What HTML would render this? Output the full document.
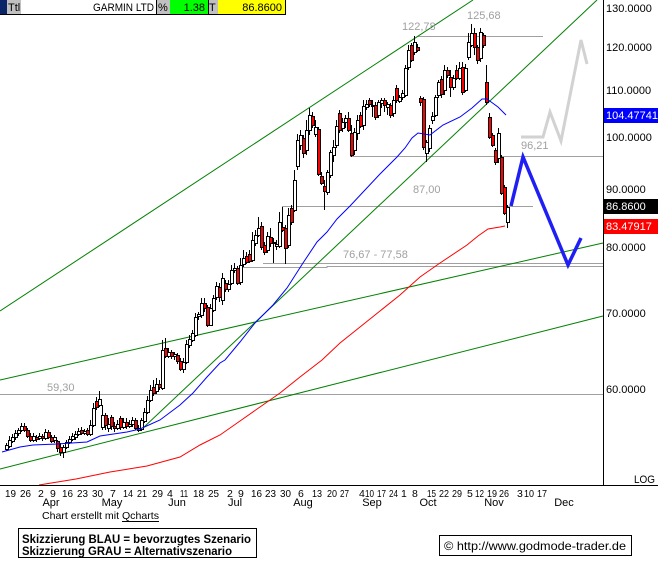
<!DOCTYPE html>
<html><head><meta charset="utf-8"><style>
html,body{margin:0;padding:0;background:#fff;}
svg{display:block;}
text{font-family:"Liberation Sans",Arial,sans-serif;}
</style></head><body>
<svg width="658" height="563" viewBox="0 0 658 563" xmlns="http://www.w3.org/2000/svg">
<rect width="658" height="563" fill="#fff"/>
<!-- header -->
<rect x="0" y="0" width="7" height="14" fill="#0a2468"/>
<rect x="7" y="0" width="14" height="14" fill="#c0c0c0"/>
<rect x="21" y="0" width="136" height="14" fill="#fff"/>
<rect x="157" y="0" width="13" height="14" fill="#c0c0c0"/>
<rect x="170" y="0" width="38" height="14" fill="#00ff00"/>
<rect x="208" y="0" width="10" height="14" fill="#c0c0c0"/>
<rect x="218" y="0" width="67" height="14" fill="#ffff00"/>
<path d="M0 14.5H285.5V0M156.5 0V14M208.5 0V14" stroke="#000" fill="none" shape-rendering="crispEdges"/>
<g font-size="11" fill="#000">
<text x="8" y="11">Ttl</text>
<text x="154" y="11" text-anchor="end" textLength="61" lengthAdjust="spacingAndGlyphs">GARMIN LTD</text>
<text x="158" y="11">%</text>
<text x="205" y="11" text-anchor="end">1.38</text>
<text x="209" y="11">T</text>
<text x="282" y="11" text-anchor="end">86.8600</text>
</g>

<!-- gray horizontal lines -->
<g stroke="#a0a0a0" stroke-width="1" shape-rendering="crispEdges" fill="none">
<path d="M417 36.5H543"/>
<path d="M350 156.5H603"/>
<path d="M282 206.5H533"/>
<path d="M263 263.5H603"/>
<path d="M240 267.5H327V266.5H603"/>
<path d="M0 394.5H603"/>
</g>

<!-- green trend lines -->
<g stroke="#008000" stroke-width="1" fill="none">
<path d="M0 311L473 0"/>
<path d="M142 429L597 0"/>
<path d="M0 380L603 243"/>
<path d="M0 469L603 316"/>
</g>

<!-- candle wicks -->
<path stroke="#000" stroke-width="1" fill="none" shape-rendering="crispEdges" d="M6.5 443V451M9.5 436V448M12.5 434V443M15.5 430V440M18.5 428V436M21.5 423V432M24.5 423V432M27.5 428V438M30.5 433V442M33.5 433V442M36.5 435V442M39.5 433V440M42.5 434V441M45.5 429V440M48.5 430V439M51.5 435V443M54.5 435V443M57.5 440V452M60.5 443V456M63.5 445V458M66.5 440V449M69.5 436V444M72.5 433V441M75.5 431V440M78.5 428V436M81.5 427V435M84.5 429V435M87.5 428V436M90.5 420V436M93.5 403V427M96.5 397V410M99.5 391V407M102.5 405V430M105.5 413V430M108.5 418V432M111.5 415V430M114.5 422V432M117.5 420V430M120.5 416V430M123.5 418V429M126.5 418V429M129.5 420V428M132.5 417V427M135.5 418V430M138.5 425V432M141.5 418V431M144.5 408V423M147.5 396V414M150.5 385V402M153.5 380V396M156.5 378V394M159.5 380V390M162.5 340V390M165.5 338V358M168.5 348V358M171.5 350V359M174.5 352V360M177.5 353V364M180.5 358V371M183.5 358V373M186.5 340V364M189.5 335V348M192.5 330V342M195.5 313V337M198.5 312V320M201.5 298V318M204.5 298V312M207.5 305V327M210.5 304V326M213.5 295V312M216.5 282V300M219.5 283V302M222.5 273V305M225.5 280V292M228.5 280V292M231.5 265V285M234.5 263V273M237.5 266V285M240.5 258V285M243.5 250V267M246.5 252V264M249.5 250V263M252.5 232V262M255.5 230V246M258.5 217V237M261.5 222V250M264.5 242V255M267.5 232V253M270.5 228V247M273.5 238V263M276.5 240V250M279.5 212V248M282.5 207V232M285.5 225V264M288.5 208V248M291.5 205V225M294.5 170V212M297.5 134V170M300.5 130V150M303.5 135V158M306.5 120V155M309.5 108V135M312.5 112V128M315.5 120V137M318.5 127V176M321.5 172V185M324.5 180V210M327.5 170V195M330.5 150V178M333.5 140V162M336.5 120V148M339.5 110V133M342.5 118V132M345.5 115V128M348.5 112V132M351.5 125V157M354.5 128V155M357.5 115V140M360.5 112V128M363.5 100V130M366.5 100V110M369.5 98V107M372.5 100V117M375.5 102V120M378.5 100V118M381.5 98V108M384.5 98V112M387.5 102V115M390.5 103V118M393.5 96V117M396.5 85V103M399.5 95V103M402.5 90V100M405.5 65V97M408.5 45V70M411.5 43V62M414.5 36V55M417.5 44V52M420.5 96V106M423.5 97V150M426.5 140V162M429.5 125V152M432.5 112V124M435.5 95V117M438.5 80V98M441.5 76V98M444.5 65V95M447.5 67V78M450.5 70V97M453.5 75V90M456.5 65V80M459.5 62V80M462.5 62V95M465.5 64V92M468.5 33V60M471.5 24V47M474.5 28V55M477.5 45V64M480.5 28V62M483.5 33V48M486.5 65V105M489.5 113V139M492.5 133V147M495.5 148V165M498.5 128V163M501.5 155V195M504.5 185V215M507.5 205V228"/>

<g transform="translate(0.5,0.5)" stroke="#000" stroke-width="1" shape-rendering="crispEdges">
<!-- white bodies -->
<path fill="#fff" d="M5 445h3v4h-3zM8 440h3v6h-3zM11 437h3v4h-3zM14 433h3v4h-3zM17 430h3v3h-3zM20 426h3v4h-3zM32 436h3v4h-3zM38 436h3v2h-3zM44 432h3v6h-3zM53 437h3v3h-3zM62 447h3v5h-3zM65 442h3v5h-3zM68 439h3v3h-3zM71 436h3v3h-3zM74 434h3v3h-3zM77 431h3v3h-3zM83 431h3v2h-3zM89 425h3v9h-3zM92 408h3v17h-3zM98 399h3v6h-3zM101 415h3v12h-3zM107 424h3v4h-3zM116 424h3v4h-3zM122 422h3v5h-3zM128 424h3v2h-3zM131 420h3v4h-3zM137 428h3v2h-3zM140 420h3v9h-3zM143 412h3v9h-3zM146 400h3v12h-3zM149 390h3v10h-3zM155 384h3v7h-3zM161 350h3v38h-3zM167 352h3v4h-3zM173 354h3v2h-3zM182 362h3v7h-3zM185 344h3v18h-3zM188 339h3v6h-3zM191 333h3v7h-3zM194 317h3v18h-3zM197 314h3v2h-3zM200 303h3v12h-3zM209 308h3v17h-3zM212 298h3v12h-3zM215 286h3v11h-3zM221 278h3v22h-3zM227 284h3v5h-3zM230 270h3v13h-3zM233 268h3v2h-3zM239 265h3v17h-3zM242 258h3v6h-3zM251 240h3v20h-3zM254 235h3v8h-3zM257 228h3v7h-3zM266 236h3v14h-3zM272 242h3v1h-3zM275 244h3v2h-3zM278 222h3v24h-3zM287 215h3v30h-3zM293 180h3v30h-3zM296 140h3v26h-3zM299 135h3v10h-3zM305 130h3v20h-3zM308 115h3v15h-3zM314 127h3v7h-3zM326 172h3v20h-3zM329 152h3v23h-3zM332 147h3v8h-3zM335 126h3v19h-3zM341 122h3v6h-3zM344 118h3v4h-3zM353 132h3v18h-3zM356 120h3v13h-3zM362 106h3v19h-3zM365 104h3v3h-3zM371 105h3v1h-3zM377 102h3v13h-3zM380 100h3v3h-3zM386 104h3v3h-3zM392 100h3v13h-3zM398 97h3v4h-3zM401 93h3v4h-3zM404 68h3v27h-3zM407 50h3v17h-3zM413 42h3v10h-3zM425 142h3v11h-3zM428 128h3v20h-3zM431 116h3v4h-3zM434 97h3v18h-3zM437 82h3v13h-3zM443 70h3v20h-3zM452 78h3v9h-3zM458 68h3v10h-3zM464 68h3v22h-3zM467 42h3v15h-3zM470 33h3v12h-3zM479 32h3v26h-3zM497 133h3v25h-3zM506 207h3v15h-3z"/>
<!-- red bodies -->
<path fill="#ff0000" d="M23 426h3v4h-3zM26 430h3v6h-3zM29 436h3v4h-3zM35 437h3v2h-3zM41 436h3v2h-3zM47 432h3v5h-3zM50 437h3v4h-3zM56 441h3v7h-3zM59 447h3v5h-3zM80 430h3v3h-3zM86 430h3v4h-3zM95 401h3v6h-3zM104 415h3v10h-3zM110 417h3v9h-3zM113 426h3v2h-3zM119 418h3v9h-3zM125 422h3v4h-3zM134 420h3v8h-3zM152 387h3v6h-3zM158 384h3v3h-3zM164 348h3v8h-3zM170 352h3v4h-3zM176 355h3v6h-3zM179 361h3v8h-3zM203 303h3v5h-3zM206 307h3v18h-3zM218 287h3v10h-3zM224 283h3v6h-3zM236 268h3v15h-3zM245 256h3v6h-3zM248 254h3v7h-3zM260 226h3v21h-3zM263 245h3v7h-3zM269 237h3v6h-3zM281 227h3v3h-3zM284 228h3v20h-3zM290 208h3v14h-3zM302 138h3v15h-3zM311 116h3v9h-3zM317 129h3v45h-3zM320 176h3v7h-3zM323 186h3v5h-3zM338 113h3v17h-3zM347 118h3v12h-3zM350 133h3v22h-3zM359 115h3v11h-3zM368 100h3v4h-3zM374 105h3v12h-3zM383 100h3v5h-3zM389 105h3v10h-3zM395 88h3v12h-3zM410 45h3v15h-3zM416 47h3v3h-3zM419 98h3v4h-3zM422 99h3v48h-3zM440 79h3v15h-3zM446 70h3v5h-3zM449 77h3v10h-3zM455 70h3v8h-3zM461 67h3v25h-3zM473 33h3v14h-3zM476 47h3v13h-3zM482 35h3v10h-3zM485 82h3v20h-3zM488 117h3v20h-3zM491 135h3v10h-3zM494 150h3v12h-3zM500 157h3v36h-3zM503 187h3v26h-3z"/>
</g>

<!-- moving averages -->
<polyline fill="none" stroke="#0000ff" stroke-width="1" points="2,452 20,447 33,445 57,444 87,442 100,436 127,432 140,429 160,420 180,405 193,393 207,377 220,363 225,360 240,342 255,323 273,305 287,288 303,263 317,242 327,232 337,219 350,206 365,190 380,174 397,157 405,148 412,138 418,133 430,135 443,125 460,117 472,108 482,99 487,99 498,107 506,115"/>
<polyline fill="none" stroke="#ff0000" stroke-width="1" points="39,485 76,479 110,472 147,466 180,457 200,445 220,435 240,421 260,407 280,393 300,377 322,360 340,343 360,327 380,311 400,295 420,277 440,263 467,245 478,236 488,229 500,227 505,226"/>

<!-- scenarios -->
<polyline fill="none" stroke="#d2d2d2" stroke-width="3" stroke-linejoin="miter" points="521,137 543,137 550,112 561,141 581,40 587,64"/>
<polyline fill="none" stroke="#1f1ff5" stroke-width="3.5" stroke-linejoin="miter" points="511,206 523,157 568,265 581,238"/>

<!-- gray labels -->
<g font-size="11" fill="#a0a0a0">
<text x="402" y="30">122,78</text>
<text x="467" y="19">125,68</text>
<text x="521" y="149">96,21</text>
<text x="413" y="193">87,00</text>
<text x="343" y="258">76,67 - 77,58</text>
<text x="47" y="391">59,30</text>
</g>

<!-- axes -->
<path d="M603.5 0V485M0 485.5H658" stroke="#000" stroke-width="1" shape-rendering="crispEdges"/>

<!-- right axis labels -->
<g font-size="11" fill="#000">
<text x="606" y="12">130.0000</text>
<text x="606" y="51">120.0000</text>
<text x="606" y="94">110.0000</text>
<text x="606" y="141">100.0000</text>
<text x="606" y="193">90.0000</text>
<text x="606" y="251">80.0000</text>
<text x="606" y="317">70.0000</text>
<text x="606" y="393">60.0000</text>
</g>
<rect x="604" y="108" width="54" height="15" fill="#0000ff"/>
<rect x="604" y="199" width="54" height="15" fill="#000"/>
<rect x="604" y="219" width="54" height="15" fill="#ff0000"/>
<g font-size="11" fill="#fff">
<text x="606" y="119">104.47741</text>
<text x="606" y="210">86.8600</text>
<text x="606" y="230">83.47917</text>
</g>
<text x="634" y="483" font-size="11" textLength="21" lengthAdjust="spacingAndGlyphs">LOG</text>

<!-- date labels -->
<g font-size="10.5" fill="#000">
<text x="5" y="497" textLength="11" lengthAdjust="spacingAndGlyphs">19</text>
<text x="20" y="497" textLength="11" lengthAdjust="spacingAndGlyphs">26</text>
<text x="38" y="497">2</text>
<text x="50" y="497">9</text>
<text x="62" y="497" textLength="11" lengthAdjust="spacingAndGlyphs">16</text>
<text x="77" y="497" textLength="11" lengthAdjust="spacingAndGlyphs">23</text>
<text x="92" y="497" textLength="11" lengthAdjust="spacingAndGlyphs">30</text>
<text x="110" y="497">7</text>
<text x="123" y="497" textLength="10" lengthAdjust="spacingAndGlyphs">14</text>
<text x="137" y="497" textLength="10" lengthAdjust="spacingAndGlyphs">21</text>
<text x="152" y="497" textLength="11" lengthAdjust="spacingAndGlyphs">29</text>
<text x="167" y="497">4</text>
<text x="180" y="497" textLength="8" lengthAdjust="spacingAndGlyphs">11</text>
<text x="193" y="497" textLength="11" lengthAdjust="spacingAndGlyphs">18</text>
<text x="208" y="497" textLength="11" lengthAdjust="spacingAndGlyphs">25</text>
<text x="227" y="497">2</text>
<text x="238" y="497">9</text>
<text x="251" y="497" textLength="11" lengthAdjust="spacingAndGlyphs">16</text>
<text x="265" y="497" textLength="11" lengthAdjust="spacingAndGlyphs">23</text>
<text x="280" y="497" textLength="11" lengthAdjust="spacingAndGlyphs">30</text>
<text x="298" y="497">6</text>
<text x="312" y="497" textLength="10" lengthAdjust="spacingAndGlyphs">13</text>
<text x="327" y="497" textLength="10" lengthAdjust="spacingAndGlyphs">20</text>
<text x="340" y="497" textLength="9" lengthAdjust="spacingAndGlyphs">27</text>
<text x="359" y="497">4</text>
<text x="365" y="497" textLength="9" lengthAdjust="spacingAndGlyphs">10</text>
<text x="377" y="497" textLength="9" lengthAdjust="spacingAndGlyphs">17</text>
<text x="389" y="497" textLength="9" lengthAdjust="spacingAndGlyphs">24</text>
<text x="401" y="497">1</text>
<text x="412" y="497">8</text>
<text x="427" y="497" textLength="9" lengthAdjust="spacingAndGlyphs">15</text>
<text x="439" y="497" textLength="10" lengthAdjust="spacingAndGlyphs">22</text>
<text x="452" y="497" textLength="10" lengthAdjust="spacingAndGlyphs">29</text>
<text x="467" y="497">5</text>
<text x="475" y="497" textLength="9" lengthAdjust="spacingAndGlyphs">12</text>
<text x="487" y="497" textLength="10" lengthAdjust="spacingAndGlyphs">19</text>
<text x="499" y="497" textLength="10" lengthAdjust="spacingAndGlyphs">26</text>
<text x="517" y="497">3</text>
<text x="524" y="497" textLength="10" lengthAdjust="spacingAndGlyphs">10</text>
<text x="537" y="497" textLength="10" lengthAdjust="spacingAndGlyphs">17</text>
</g>
<g font-size="11" fill="#000" text-anchor="middle">
<text x="51" y="506">Apr</text><text x="112" y="506">May</text><text x="177" y="506">Jun</text><text x="235" y="506">Jul</text><text x="303" y="506">Aug</text><text x="372" y="506">Sep</text><text x="428" y="506">Oct</text><text x="494" y="506">Nov</text><text x="564" y="506">Dec</text>
</g>

<!-- footer -->
<text x="42" y="519" font-size="10.5" textLength="117" lengthAdjust="spacingAndGlyphs">Chart erstellt mit Qcharts</text>
<path d="M122 521.5H159" stroke="#000" stroke-width="1" shape-rendering="crispEdges"/>
<rect x="18.5" y="528.5" width="238" height="29" fill="none" stroke="#000" stroke-width="1" shape-rendering="crispEdges"/>
<g font-size="11.5" font-weight="bold" fill="#000">
<text x="22" y="543" textLength="229" lengthAdjust="spacingAndGlyphs">Skizzierung BLAU = bevorzugtes Szenario</text>
<text x="22" y="555" textLength="210" lengthAdjust="spacingAndGlyphs">Skizzierung GRAU = Alternativszenario</text>
</g>
<rect x="439.5" y="535.5" width="192" height="20" fill="none" stroke="#000" stroke-width="1" shape-rendering="crispEdges"/>
<text x="444" y="550" font-size="12" textLength="182" lengthAdjust="spacingAndGlyphs">© http://www.godmode-trader.de</text>
</svg>
</body></html>
